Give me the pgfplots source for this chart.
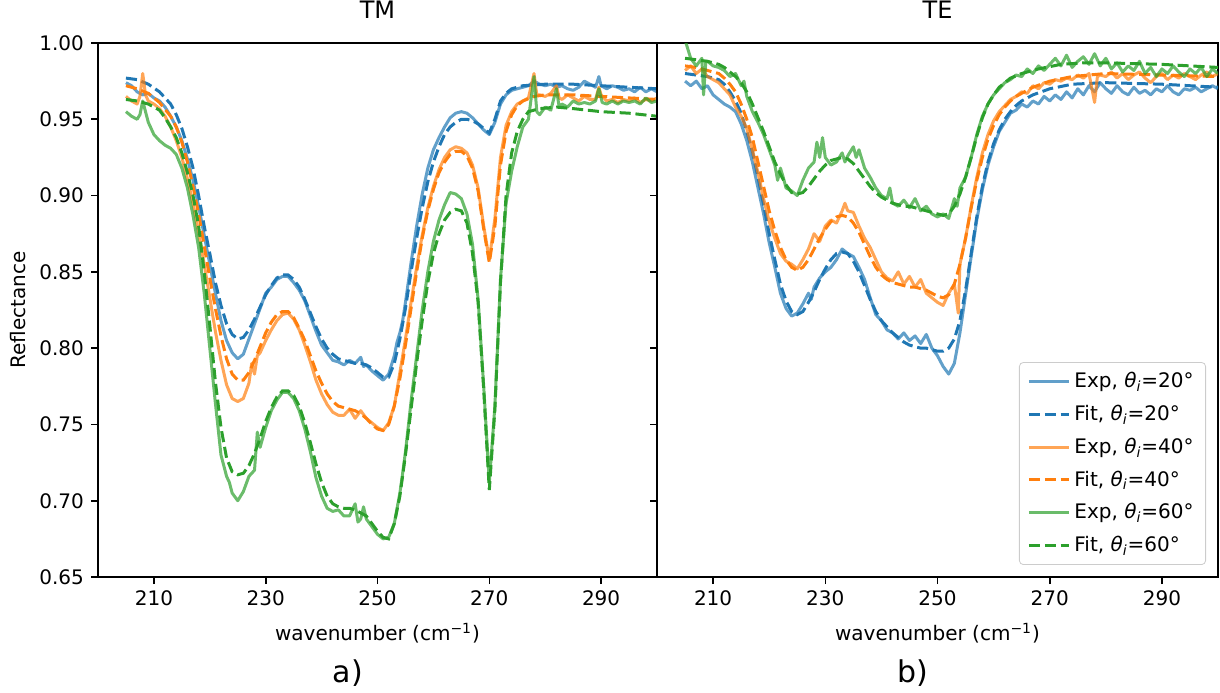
\documentclass[border=0pt]{standalone}
\usepackage{fontspec}
\setmainfont{DejaVu Sans}
\usepackage{pgfplots}
\pgfplotsset{compat=1.18}
\definecolor{tabblue}{HTML}{1F77B4}
\definecolor{taborange}{HTML}{FF7F0E}
\definecolor{tabgreen}{HTML}{2CA02C}
\pgfplotsset{
  common/.style={
    scale only axis, height=267pt,
    xmin=200, xmax=300, ymin=0.65, ymax=1.00,
    xtick={210,230,250,270,290},
    ytick={0.65,0.70,0.75,0.80,0.85,0.90,0.95,1.00},
    tick align=outside, major tick length=3.5pt,
    xtick pos=bottom, ytick pos=left,
    axis line style={line width=0.8pt},
    every tick/.style={line width=0.8pt, black},
    tick label style={font=\fontsize{10}{12}\selectfont},
    /pgf/number format/assume math mode=true,
    yticklabel style={/pgf/number format/.cd, fixed, fixed zerofill, precision=2},
    xticklabel style={/pgf/number format/.cd, fixed, precision=0, 1000 sep={}},
    xlabel={wavenumber (cm\textsuperscript{−1})},
    xlabel style={at={(axis description cs:0.5,-0.1049)}, anchor=center, font=\fontsize{10}{12}\selectfont},
    title style={at={(axis description cs:0.5,1.040)}, anchor=center, font=\fontsize{12}{14}\selectfont},
    legend image code/.code={\draw[#1] (0pt,0pt) -- (20pt,0pt);},
  },
  expb/.style={tabblue, line width=1.5pt, draw opacity=0.7, line join=round},
  fitb/.style={tabblue, line width=1.5pt, dash pattern=on 5.55pt off 2.4pt},
  expo/.style={taborange, line width=1.5pt, draw opacity=0.7, line join=round},
  fito/.style={taborange, line width=1.5pt, dash pattern=on 5.55pt off 2.4pt},
  expg/.style={tabgreen, line width=1.5pt, draw opacity=0.7, line join=round},
  fitg/.style={tabgreen, line width=1.5pt, dash pattern=on 5.55pt off 2.4pt},
}
\begin{document}
\begin{tikzpicture}
\useasboundingbox (0,0) rectangle (610pt,346pt);
% ---------------- TM ----------------
\begin{axis}[common, name=left, at={(49pt,57.5pt)}, anchor=south west, width=279.5pt,
  title={TM}, ylabel={Reflectance},
  ylabel style={at={(axis description cs:-0.1422,0.5)}, anchor=center, font=\fontsize{10}{12}\selectfont}]
% Exp 20
\addplot[expb] coordinates {(205,0.974)(206,0.972)(207,0.968)(208,0.966)(209,0.967)(210,0.964)(211,0.962)(212,0.958)(213,0.952)(214,0.945)(215,0.936)(216,0.924)(217,0.910)(218,0.893)(219,0.874)(220,0.855)(221,0.836)(222,0.818)(223,0.805)(224,0.797)(225,0.793)(226,0.796)(227,0.806)(228,0.816)(229,0.826)(230,0.836)(231,0.840)(232,0.845)(233,0.847)(234,0.847)(235,0.843)(236,0.838)(237,0.831)(238,0.821)(239,0.811)(240,0.802)(241,0.797)(242,0.792)(243,0.791)(244,0.789)(245,0.792)(246,0.790)(247,0.794)(247.5,0.788)(248,0.789)(249,0.785)(250,0.782)(251,0.779)(252,0.783)(253,0.795)(253.5,0.804)(254,0.810)(254.5,0.818)(255,0.830)(256,0.856)(257,0.880)(258,0.901)(259,0.918)(260,0.930)(261,0.938)(262,0.945)(263,0.951)(264,0.954)(265,0.955)(266,0.954)(267,0.951)(268,0.947)(269,0.943)(270,0.940)(271,0.948)(272,0.960)(273,0.966)(274,0.969)(275,0.970)(276,0.971)(277,0.972)(278,0.975)(279,0.973)(280,0.972)(281,0.973)(282,0.971)(283,0.972)(284,0.970)(285,0.969)(286,0.971)(287,0.975)(288,0.973)(289,0.971)(289.6,0.978)(290,0.972)(291,0.970)(292,0.972)(293,0.971)(294,0.969)(295,0.970)(296,0.968)(297,0.971)(298,0.968)(299,0.970)(300,0.968)};
% Fit 20
\addplot[fitb] coordinates {(205,0.977)(207,0.976)(209,0.973)(211,0.968)(213,0.960)(214,0.953)(215,0.944)(216,0.932)(217,0.918)(218,0.900)(219,0.880)(220,0.862)(221,0.843)(222,0.828)(223,0.816)(224,0.809)(225,0.806)(226,0.807)(227,0.812)(228,0.819)(229,0.827)(230,0.835)(231,0.841)(232,0.846)(233,0.848)(234,0.848)(235,0.845)(236,0.840)(237,0.832)(238,0.823)(239,0.814)(240,0.806)(241,0.800)(242,0.796)(243,0.793)(244,0.792)(245,0.791)(246,0.790)(247,0.790)(248,0.789)(249,0.787)(250,0.784)(251,0.781)(252,0.781)(253,0.790)(254,0.806)(255,0.826)(256,0.850)(257,0.872)(258,0.892)(259,0.909)(260,0.922)(261,0.932)(262,0.940)(263,0.945)(264,0.948)(265,0.950)(266,0.950)(267,0.949)(268,0.947)(269,0.944)(270,0.941)(271,0.950)(272,0.962)(273,0.967)(274,0.970)(276,0.972)(280,0.973)(285,0.973)(290,0.972)(295,0.971)(300,0.970)};
% Exp 40
\addplot[expo] coordinates {(205,0.965)(206,0.962)(207,0.960)(207.5,0.965)(208,0.980)(208.5,0.966)(209,0.962)(210,0.960)(211,0.957)(212,0.952)(213,0.945)(214,0.936)(215,0.925)(216,0.911)(217,0.895)(218,0.876)(219,0.855)(220,0.833)(221,0.811)(222,0.792)(223,0.776)(224,0.767)(225,0.765)(226,0.767)(227,0.777)(227.5,0.790)(228,0.783)(228.5,0.795)(229,0.797)(230,0.805)(231,0.812)(232,0.818)(233,0.822)(234,0.823)(235,0.819)(236,0.812)(237,0.802)(238,0.791)(239,0.779)(240,0.770)(241,0.763)(242,0.758)(243,0.756)(244,0.756)(245,0.760)(246,0.754)(247,0.759)(248,0.754)(249,0.751)(250,0.748)(251,0.746)(252,0.751)(253,0.762)(254,0.784)(255,0.806)(256,0.830)(257,0.853)(258,0.874)(259,0.892)(260,0.906)(261,0.917)(262,0.925)(263,0.930)(264,0.932)(265,0.931)(266,0.928)(267,0.920)(268,0.905)(269,0.880)(270,0.858)(271,0.885)(272,0.925)(273,0.946)(274,0.955)(275,0.960)(276,0.962)(277,0.964)(278,0.980)(278.5,0.966)(279,0.966)(280,0.965)(281,0.967)(282,0.972)(282.5,0.964)(283,0.963)(284,0.966)(285,0.964)(286,0.962)(287,0.965)(288,0.963)(289,0.963)(289.6,0.971)(290,0.966)(291,0.962)(292,0.963)(293,0.961)(294,0.963)(295,0.962)(296,0.964)(297,0.961)(298,0.963)(299,0.962)(300,0.964)};
% Fit 40
\addplot[fito] coordinates {(205,0.972)(207,0.970)(209,0.967)(211,0.961)(213,0.952)(214,0.945)(215,0.935)(216,0.922)(217,0.906)(218,0.888)(219,0.867)(220,0.846)(221,0.826)(222,0.808)(223,0.793)(224,0.783)(225,0.779)(226,0.779)(227,0.784)(228,0.792)(229,0.801)(230,0.810)(231,0.817)(232,0.822)(233,0.824)(234,0.824)(235,0.820)(236,0.813)(237,0.805)(238,0.795)(239,0.785)(240,0.777)(241,0.770)(242,0.765)(243,0.762)(244,0.761)(245,0.760)(246,0.759)(247,0.757)(248,0.754)(249,0.750)(250,0.747)(251,0.746)(252,0.750)(253,0.762)(254,0.780)(255,0.802)(256,0.826)(257,0.850)(258,0.872)(259,0.890)(260,0.904)(261,0.915)(262,0.922)(263,0.927)(264,0.929)(265,0.929)(266,0.926)(267,0.918)(268,0.903)(269,0.878)(270,0.856)(271,0.880)(272,0.920)(273,0.942)(274,0.953)(275,0.959)(276,0.962)(278,0.965)(280,0.966)(285,0.966)(290,0.965)(295,0.964)(300,0.963)};
% Exp 60
\addplot[expg] coordinates {(205,0.955)(206,0.952)(207,0.950)(207.5,0.953)(208,0.962)(208.5,0.955)(209,0.948)(210,0.940)(211,0.936)(212,0.933)(213,0.931)(214,0.927)(215,0.918)(216,0.905)(217,0.887)(218,0.866)(219,0.836)(220,0.800)(221,0.764)(222,0.730)(223,0.716)(223.5,0.712)(224,0.705)(225,0.700)(226,0.706)(227,0.716)(228,0.720)(228.5,0.745)(229,0.735)(230,0.748)(231,0.759)(232,0.766)(233,0.771)(234,0.771)(235,0.767)(236,0.759)(237,0.747)(238,0.732)(239,0.715)(240,0.703)(241,0.695)(242,0.693)(243,0.694)(244,0.690)(245,0.690)(246,0.698)(246.5,0.686)(247,0.688)(247.5,0.696)(248,0.688)(249,0.683)(250,0.678)(251,0.675)(252,0.676)(253,0.685)(254,0.705)(254.5,0.718)(255,0.732)(256,0.765)(257,0.795)(258,0.825)(259,0.850)(260,0.870)(261,0.884)(262,0.894)(263,0.902)(264,0.901)(265,0.898)(266,0.888)(267,0.868)(268,0.832)(269,0.775)(270,0.712)(271,0.762)(272,0.845)(273,0.895)(274,0.916)(275,0.932)(276,0.945)(277,0.950)(278,0.978)(278.5,0.955)(279,0.953)(280,0.958)(281,0.956)(282,0.970)(282.5,0.958)(283,0.960)(284,0.958)(285,0.962)(286,0.960)(287,0.961)(288,0.960)(289,0.962)(289.6,0.970)(290.2,0.961)(291,0.960)(292,0.962)(293,0.960)(294,0.962)(295,0.961)(296,0.962)(297,0.960)(298,0.964)(299,0.961)(300,0.962)};
% Fit 60
\addplot[fitg] coordinates {(205,0.963)(207,0.962)(209,0.960)(211,0.956)(212,0.951)(213,0.945)(214,0.938)(215,0.928)(216,0.915)(217,0.900)(218,0.880)(219,0.850)(220,0.815)(221,0.778)(222,0.748)(223,0.728)(224,0.719)(225,0.717)(226,0.718)(227,0.723)(228,0.731)(229,0.741)(230,0.752)(231,0.761)(232,0.768)(233,0.772)(234,0.772)(235,0.769)(236,0.762)(237,0.751)(238,0.738)(239,0.724)(240,0.712)(241,0.703)(242,0.698)(243,0.696)(244,0.695)(245,0.695)(246,0.694)(247,0.692)(248,0.690)(249,0.685)(250,0.680)(251,0.676)(252,0.675)(253,0.685)(254,0.703)(255,0.730)(256,0.760)(257,0.790)(258,0.818)(259,0.843)(260,0.862)(261,0.875)(262,0.884)(263,0.889)(264,0.891)(265,0.890)(266,0.882)(267,0.862)(268,0.830)(269,0.773)(270,0.707)(271,0.760)(272,0.843)(273,0.900)(274,0.928)(275,0.942)(276,0.950)(277,0.955)(279,0.957)(282,0.958)(285,0.957)(290,0.955)(295,0.954)(300,0.952)};
\end{axis}
% ---------------- TE ----------------
\begin{axis}[common, name=right, at={(328.5pt,57.5pt)}, anchor=south west, width=280.5pt,
  title={TE}, yticklabels={},
  legend cell align=left,
  legend style={at={(axis description cs:0.9786,0.0225)}, anchor=south east,
    draw=black!20, rounded corners=2pt, fill=white, fill opacity=0.8, text opacity=1,
    font=\fontsize{10}{12}\selectfont, row sep=3.2pt, inner xsep=4pt, inner ysep=3pt,
    /tikz/every even column/.append style={column sep=6pt}}]
\addplot[expb] coordinates {(205,0.975)(206,0.972)(207,0.975)(208,0.970)(209,0.972)(210,0.966)(211,0.963)(212,0.960)(213,0.958)(214,0.955)(215,0.947)(216,0.936)(217,0.922)(218,0.905)(219,0.888)(220,0.869)(221,0.853)(222,0.836)(223,0.826)(224,0.821)(225,0.823)(226,0.829)(227,0.836)(227.5,0.832)(228,0.840)(229,0.846)(230,0.850)(231,0.853)(232,0.858)(233,0.865)(234,0.862)(235,0.860)(236,0.853)(237,0.845)(238,0.833)(239,0.822)(240,0.818)(241,0.812)(242,0.810)(243,0.806)(244,0.810)(245,0.805)(246,0.808)(247,0.803)(248,0.809)(249,0.800)(250,0.795)(251,0.788)(252,0.783)(253,0.790)(253.5,0.800)(254,0.810)(255,0.835)(256,0.860)(257,0.884)(258,0.904)(259,0.920)(260,0.932)(261,0.942)(262,0.948)(263,0.954)(264,0.956)(265,0.960)(266,0.958)(267,0.962)(268,0.960)(269,0.965)(270,0.962)(271,0.966)(272,0.963)(273,0.968)(274,0.964)(275,0.970)(276,0.966)(277,0.972)(278,0.968)(279,0.974)(280,0.970)(281,0.967)(282,0.972)(283,0.968)(284,0.966)(285,0.971)(286,0.967)(287,0.969)(288,0.966)(289,0.970)(290,0.968)(291,0.972)(292,0.968)(293,0.966)(294,0.970)(295,0.969)(296,0.971)(297,0.968)(298,0.970)(299,0.972)(300,0.970)};
\addlegendentry{Exp, \textit{θ}\textsubscript{\textit{i}}=20°}
\addplot[fitb] coordinates {(205,0.980)(207,0.979)(209,0.978)(211,0.976)(212,0.973)(213,0.968)(214,0.962)(215,0.954)(216,0.942)(217,0.929)(218,0.912)(219,0.894)(220,0.875)(221,0.858)(222,0.842)(223,0.831)(224,0.824)(225,0.822)(226,0.824)(227,0.830)(228,0.837)(229,0.845)(230,0.852)(231,0.858)(232,0.862)(233,0.863)(234,0.862)(235,0.857)(236,0.850)(237,0.841)(238,0.832)(239,0.824)(240,0.818)(241,0.814)(242,0.810)(243,0.807)(244,0.804)(245,0.802)(246,0.801)(247,0.800)(248,0.800)(249,0.799)(250,0.798)(251,0.798)(252,0.800)(253,0.806)(254,0.818)(255,0.838)(256,0.862)(257,0.886)(258,0.906)(259,0.922)(260,0.934)(261,0.943)(262,0.950)(263,0.955)(264,0.959)(265,0.962)(267,0.966)(270,0.970)(274,0.973)(280,0.974)(290,0.973)(300,0.971)};
\addlegendentry{Fit, \textit{θ}\textsubscript{\textit{i}}=20°}
\addplot[expo] coordinates {(205,0.982)(206,0.985)(207,0.980)(208,0.983)(209,0.978)(210,0.976)(211,0.974)(212,0.970)(213,0.966)(214,0.958)(215,0.952)(216,0.944)(217,0.930)(218,0.915)(219,0.898)(220,0.883)(221,0.872)(222,0.862)(223,0.857)(224,0.855)(225,0.852)(226,0.858)(227,0.865)(228,0.875)(229,0.870)(230,0.880)(231,0.884)(232,0.882)(233,0.890)(233.5,0.895)(234,0.890)(235,0.889)(236,0.880)(237,0.872)(238,0.866)(239,0.858)(240,0.850)(241,0.846)(242,0.844)(243,0.850)(244,0.842)(245,0.847)(246,0.840)(247,0.845)(248,0.836)(249,0.833)(250,0.830)(251,0.828)(252,0.836)(253,0.842)(253.7,0.823)(254,0.855)(255,0.872)(256,0.893)(257,0.912)(258,0.928)(259,0.940)(260,0.949)(261,0.955)(262,0.959)(263,0.963)(264,0.965)(265,0.968)(266,0.967)(267,0.972)(268,0.970)(269,0.974)(270,0.973)(271,0.976)(272,0.975)(273,0.977)(274,0.976)(275,0.979)(276,0.977)(277,0.980)(278,0.961)(278.5,0.978)(279,0.979)(280,0.978)(281,0.981)(282,0.977)(283,0.980)(284,0.976)(285,0.979)(286,0.981)(287,0.977)(288,0.974)(289,0.978)(290,0.980)(291,0.976)(292,0.979)(293,0.977)(294,0.980)(295,0.978)(296,0.976)(297,0.979)(298,0.981)(299,0.978)(300,0.980)};
\addlegendentry{Exp, \textit{θ}\textsubscript{\textit{i}}=40°}
\addplot[fito] coordinates {(205,0.985)(207,0.984)(209,0.982)(211,0.980)(212,0.977)(213,0.973)(214,0.968)(215,0.960)(216,0.950)(217,0.938)(218,0.922)(219,0.906)(220,0.890)(221,0.877)(222,0.866)(223,0.858)(224,0.853)(225,0.851)(226,0.853)(227,0.858)(228,0.865)(229,0.872)(230,0.878)(231,0.883)(232,0.886)(233,0.887)(234,0.886)(235,0.882)(236,0.876)(237,0.868)(238,0.860)(239,0.853)(240,0.848)(241,0.845)(242,0.843)(243,0.842)(244,0.841)(245,0.840)(246,0.840)(247,0.839)(248,0.838)(249,0.836)(250,0.834)(251,0.833)(252,0.835)(253,0.842)(254,0.855)(255,0.872)(256,0.892)(257,0.910)(258,0.925)(259,0.937)(260,0.946)(261,0.953)(262,0.958)(263,0.962)(264,0.965)(265,0.967)(267,0.971)(270,0.975)(274,0.978)(280,0.980)(290,0.979)(300,0.978)};
\addlegendentry{Fit, \textit{θ}\textsubscript{\textit{i}}=40°}
\addplot[expg] coordinates {(205,1.002)(206,0.990)(207,0.985)(208,0.990)(208.3,0.966)(208.7,0.988)(209,0.988)(210,0.985)(211,0.984)(212,0.982)(213,0.978)(214,0.980)(215,0.972)(215.5,0.975)(216,0.965)(217,0.955)(218,0.948)(219,0.940)(220,0.930)(221,0.920)(221.5,0.910)(222,0.918)(222.5,0.912)(223,0.905)(224,0.903)(225,0.900)(226,0.910)(227,0.918)(228,0.922)(228.5,0.935)(229,0.925)(229.5,0.938)(230,0.925)(231,0.920)(232,0.922)(233,0.928)(233.5,0.922)(234,0.926)(235,0.932)(235.5,0.925)(236,0.930)(237,0.918)(238,0.912)(239,0.905)(240,0.900)(241,0.898)(241.5,0.905)(242,0.895)(243,0.893)(244,0.897)(245,0.892)(246,0.898)(247,0.890)(248,0.893)(249,0.888)(250,0.886)(251,0.888)(252,0.885)(253,0.898)(253.5,0.893)(254,0.905)(255,0.912)(256,0.925)(257,0.940)(258,0.952)(259,0.960)(260,0.966)(261,0.970)(262,0.974)(263,0.976)(264,0.979)(265,0.978)(266,0.983)(267,0.980)(268,0.985)(269,0.982)(270,0.986)(271,0.990)(272,0.985)(273,0.992)(274,0.984)(275,0.988)(276,0.991)(277,0.986)(278,0.993)(279,0.985)(280,0.990)(281,0.983)(282,0.987)(283,0.981)(284,0.985)(285,0.982)(286,0.988)(287,0.980)(288,0.984)(289,0.978)(290,0.983)(291,0.980)(292,0.985)(293,0.981)(294,0.978)(295,0.983)(296,0.980)(297,0.984)(298,0.978)(299,0.983)(300,0.980)};
\addlegendentry{Exp, \textit{θ}\textsubscript{\textit{i}}=60°}
\addplot[fitg] coordinates {(205,0.990)(207,0.989)(209,0.988)(211,0.986)(212,0.984)(213,0.981)(214,0.978)(215,0.974)(216,0.968)(217,0.960)(218,0.951)(219,0.942)(220,0.932)(221,0.922)(222,0.914)(223,0.907)(224,0.902)(225,0.901)(226,0.902)(227,0.906)(228,0.911)(229,0.916)(230,0.920)(231,0.923)(232,0.924)(233,0.925)(234,0.924)(235,0.921)(236,0.916)(237,0.911)(238,0.906)(239,0.902)(240,0.899)(241,0.897)(242,0.895)(243,0.894)(244,0.893)(245,0.893)(246,0.892)(247,0.891)(248,0.890)(249,0.889)(250,0.888)(251,0.887)(252,0.888)(253,0.893)(254,0.901)(255,0.912)(256,0.925)(257,0.939)(258,0.951)(259,0.960)(260,0.966)(261,0.971)(262,0.974)(263,0.977)(265,0.980)(268,0.983)(272,0.986)(276,0.987)(280,0.987)(290,0.986)(300,0.984)};
\addlegendentry{Fit, \textit{θ}\textsubscript{\textit{i}}=60°}
\end{axis}
\node[font=\fontsize{15}{18}\selectfont] at (174pt,9.5pt) {a)};
\node[font=\fontsize{15}{18}\selectfont] at (456.5pt,9.5pt) {b)};
\end{tikzpicture}
\end{document}
